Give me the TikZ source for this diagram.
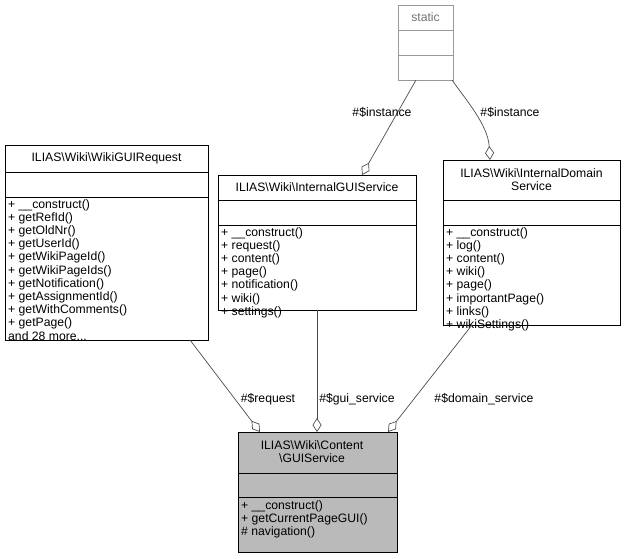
\documentclass[tikz,border=0pt]{standalone}
\usepackage{fontspec}
\setmainfont{Liberation Sans}
\usetikzlibrary{arrows.meta}
\begin{document}
\begin{tikzpicture}[x=1pt,y=-1pt,
  box/.style={draw=black,line width=0.8pt},
  txt/.style={inner sep=0pt,font=\fontsize{12.2}{13.2}\selectfont},
  lst/.style={txt,anchor=north west,align=left},
  agg/.style={draw=black!70,line width=0.7pt,-{Diamond[open,length=14pt,width=9pt]}},
  lab/.style={txt,fill=white,inner sep=1pt}]
\useasboundingbox (0,0) rectangle (625,559);
% static
\draw[draw=black!40,line width=0.8pt] (398,5) rectangle (453,80) (398,30)--(453,30) (398,55)--(453,55);
\node[txt,text=black!55] (st) at (425.5,17) {static};
% WikiGUIRequest
\draw[box] (5,145) rectangle (208,340) (5,172)--(208,172) (5,197)--(208,197);
\node[txt] (wr) at (106.5,158.5) {ILIAS\textbackslash Wiki\textbackslash WikiGUIRequest};
\node[lst] (wrm) at (8,199) {+ \_\_construct()\\+ getRefId()\\+ getOldNr()\\+ getUserId()\\+ getWikiPageId()\\+ getWikiPageIds()\\+ getNotification()\\+ getAssignmentId()\\+ getWithComments()\\+ getPage()\\and 28 more...};
% InternalGUIService
\draw[box] (218,175) rectangle (416,310) (218,200)--(416,200) (218,225)--(416,225);
\node[txt] (gs) at (317,187.5) {ILIAS\textbackslash Wiki\textbackslash InternalGUIService};
\node[lst] (gsm) at (221,227) {+ \_\_construct()\\+ request()\\+ content()\\+ page()\\+ notification()\\+ wiki()\\+ settings()};
% InternalDomainService
\draw[box] (443,160) rectangle (620,325) (443,200)--(620,200) (443,225)--(620,225);
\node[txt,align=center] (ds) at (531.5,180) {ILIAS\textbackslash Wiki\textbackslash InternalDomain\\Service};
\node[lst] (dsm) at (446,227) {+ \_\_construct()\\+ log()\\+ content()\\+ wiki()\\+ page()\\+ importantPage()\\+ links()\\+ wikiSettings()};
% Content GUIService
\draw[box,fill=black!27] (238,432) rectangle (397,552);
\draw[box] (238,473)--(397,473) (238,497)--(397,497);
\node[txt,align=center] (cg) at (312,452) {ILIAS\textbackslash Wiki\textbackslash Content\\\textbackslash GUIService};
\node[lst] (cgm) at (241,500) {+ \_\_construct()\\+ getCurrentPageGUI()\\\# navigation()};
% connectors
\coordinate (s1) at (416,80); \coordinate (t1) at (362,175);
\coordinate (s2) at (452,80); \coordinate (t2) at (490,160);
\coordinate (s3) at (190,340); \coordinate (t3) at (260,432);
\coordinate (s4) at (317,310); \coordinate (t4) at (317,432);
\coordinate (s5) at (472,325); \coordinate (t5) at (388,432);
\draw[agg] (s1)--(t1);
\draw[agg] (s2) .. controls (466,100) and (488,125) .. (t2);
\draw[agg] (s3)--(t3);
\draw[agg] (s4)--(t4);
\draw[agg] (s5)--(t5);
\node[txt] (l1) at (382,112) {\#\$instance};
\node[txt] (l2) at (510,112) {\#\$instance};
\node[txt] (l3) at (268,399) {\#\$request};
\node[txt] (l4) at (357,399) {\#\$gui\_service};
\node[txt] (l5) at (484,399) {\#\$domain\_service};
\end{tikzpicture}
\end{document}
